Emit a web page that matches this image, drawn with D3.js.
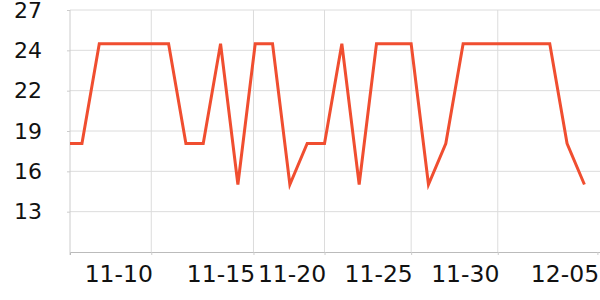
<!DOCTYPE html>
<html>
<head>
<meta charset="utf-8">
<script src="https://cdn.jsdelivr.net/npm/d3@7"></script>
<style>
  body { margin: 0; background: #fff; }
  svg { display: block; }
</style>
</head>
<body>
<svg id="chart" width="600" height="300"></svg>
<script>
// one point per day, 11-05 .. 12-05
const dates = ['11-05','11-06','11-07','11-08','11-09','11-10','11-11','11-12','11-13','11-14',
  '11-15','11-16','11-17','11-18','11-19','11-20','11-21','11-22','11-23','11-24',
  '11-25','11-26','11-27','11-28','11-29','11-30','12-01','12-02','12-03','12-04','12-05'];
const values = [17.9, 17.9, 24.7, 24.7, 24.7, 24.7, 24.7, 17.9, 17.9, 24.7,
  15.1, 24.7, 24.7, 15.1, 17.9, 17.9, 24.7, 15.1, 24.7, 24.7,
  24.7, 15.1, 17.9, 24.7, 24.7, 24.7, 24.7, 24.7, 24.7, 17.9, 15.1];

// x ticks, given as (fractional) category index
const xTickLabels = ['11-10', '11-15', '11-20', '11-25', '11-30', '12-05'];
const xTickIndex = [5, 10.9, 15, 20, 25, 30.75];

// y ticks
const yDomain = [10.5, 27];
const yTicks = [10.5, 13.25, 16, 18.75, 21.5, 24.25, 27];

const svg = d3.select('#chart');
const margin = {top: 10, right: 0, bottom: 48, left: 70};
const width = +svg.attr('width') - margin.left - margin.right;
const height = +svg.attr('height') - margin.top - margin.bottom;

const x = d3.scaleLinear().domain([0.31, 30.9]).range([0, width]);
const y = d3.scaleLinear().domain(yDomain).range([height, 0]);

const g = svg.append('g').attr('transform', 'translate(' + margin.left + ',' + margin.top + ')');

svg.append('clipPath').attr('id', 'clip')
  .append('rect').attr('width', width).attr('height', height);

// grid
g.append('g')
  .attr('class', 'grid')
  .selectAll('line.h')
  .data(yTicks.filter(d => d !== yDomain[0]))
  .enter().append('line')
  .attr('x1', 0).attr('x2', width)
  .attr('y1', d => y(d)).attr('y2', d => y(d))
  .attr('stroke', '#dcdcdc').attr('stroke-width', 1);

g.append('g')
  .attr('class', 'grid')
  .selectAll('line.v')
  .data(xTickIndex.slice(0, -1))
  .enter().append('line')
  .attr('x1', d => x(d)).attr('x2', d => x(d))
  .attr('y1', 0).attr('y2', height)
  .attr('stroke', '#dcdcdc').attr('stroke-width', 1);

// axes
const yAxis = d3.axisLeft(y)
  .tickValues(yTicks.filter(d => d !== yDomain[0]))
  .tickSize(3)
  .tickPadding(25)
  .tickFormat(d3.format('.0f'));

g.append('g')
  .attr('class', 'y axis')
  .call(yAxis)
  .call(a => a.select('.domain').remove())
  .call(a => a.selectAll('line').attr('stroke', '#cccccc'))
  .call(a => a.selectAll('text')
    .style('font-family', 'DejaVu Sans')
    .style('font-size', '22px')
    .attr('fill', '#111'));

g.append('line')
  .attr('x1', 0).attr('x2', 0)
  .attr('y1', 0).attr('y2', height + 3)
  .attr('stroke', '#cccccc');

const xAxis = d3.axisBottom(x)
  .tickValues(xTickIndex)
  .tickSize(3)
  .tickPadding(10)
  .tickFormat((d, i) => xTickLabels[i]);

g.append('g')
  .attr('class', 'x axis')
  .attr('transform', 'translate(0,' + height + ')')
  .call(xAxis)
  .call(a => a.select('.domain').attr('stroke', '#bbbbbb'))
  .call(a => a.selectAll('line').attr('stroke', '#cccccc'))
  .call(a => a.selectAll('text')
    .attr('text-anchor', 'end')
    .attr('dx', '0.05em')
    .style('font-family', 'DejaVu Sans')
    .style('font-size', '23.5px')
    .attr('fill', '#111'));

// line
const line = d3.line()
  .x((d, i) => x(i))
  .y(d => y(d));

g.append('path')
  .datum(values)
  .attr('clip-path', 'url(#clip)')
  .attr('fill', 'none')
  .attr('stroke', '#f04e30')
  .attr('stroke-width', 3)
  .attr('stroke-linejoin', 'miter')
  .attr('d', line);
</script>
</body>
</html>
